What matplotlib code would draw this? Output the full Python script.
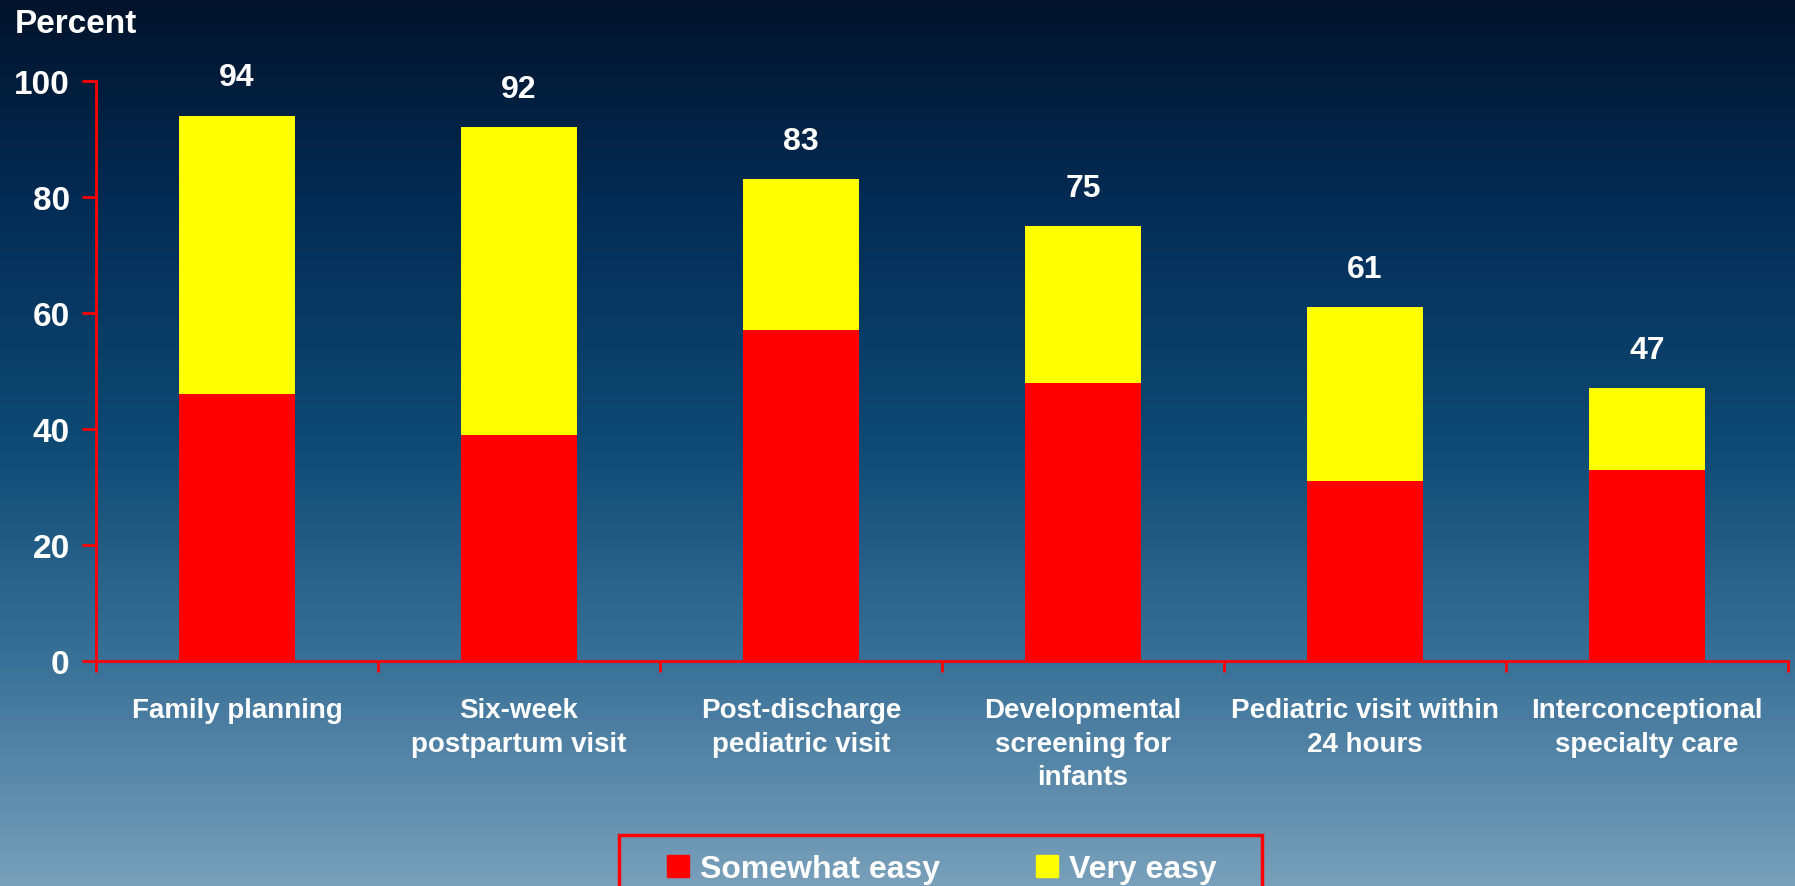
"""Stacked bar chart: ease of obtaining postpartum and infant services."""

import matplotlib

matplotlib.use("Agg")

import matplotlib.pyplot as plt
import numpy as np
from matplotlib.colors import LinearSegmentedColormap
from matplotlib.patches import Patch, Rectangle

plt.rcParams["font.family"] = ["Liberation Sans", "DejaVu Sans"]
plt.rcParams["font.weight"] = "bold"

categories = [
    "Family planning",
    "Six-week\npostpartum visit",
    "Post-discharge\npediatric visit",
    "Developmental\nscreening for\ninfants",
    "Pediatric visit within\n24 hours",
    "Interconceptional\nspecialty care",
]
somewhat_easy = [46, 39, 57, 48, 31, 33]
totals = [94, 92, 83, 75, 61, 47]
very_easy = [t - s for t, s in zip(totals, somewhat_easy)]
y_ticks = [0, 20, 40, 60, 80, 100]

_RED = "#ff0000"
_YELLOW = "#ffff00"
_TEXT = "white"
_W, _H = 1795, 887  # output size in pixels

fig = plt.figure(figsize=(_W / 100, _H / 100), dpi=100)

# Vertical background gradient, dark navy at the top to pale steel blue
bg = fig.add_axes([0, 0, 1, 1], zorder=-10)
bg_cmap = LinearSegmentedColormap.from_list(
    "bg",
    [
        (0.0, "#78a0bb"),
        (0.25, "#3a7198"),
        (0.5, "#0e4a74"),
        (0.75, "#042e58"),
        (1.0, "#02132b"),
    ],
)
bg.imshow(
    np.linspace(0, 1, 256).reshape(-1, 1),
    aspect="auto",
    cmap=bg_cmap,
    origin="lower",
    extent=[0, 1, 0, 1],
)
bg.set_xlim(0, 1)
bg.set_ylim(0, 1)
bg.axis("off")

ax = fig.add_axes([0.0535, 0.2537, 0.9425, 0.654])
ax.patch.set_alpha(0)

x = np.arange(len(categories))
bar_w = 0.41
ax.bar(x, somewhat_easy, width=bar_w, color=_RED, zorder=2)
ax.bar(x, very_easy, width=bar_w, bottom=somewhat_easy, color=_YELLOW, zorder=2)

for xi, t in zip(x, totals):
    ax.text(xi, t + 6.6, f"{t}", ha="center", va="center", color=_TEXT,
            fontsize=23, fontweight="bold")

ax.set_xlim(-0.5, len(categories) - 0.5)
ax.set_ylim(0, 100)
ax.set_yticks(y_ticks)
ax.set_yticklabels([str(v) for v in y_ticks])

# Ticks on the x axis sit at the category boundaries; labels go between them
ax.set_xticks(np.arange(len(categories) + 1) - 0.5)
ax.set_xticklabels([])
ax.set_xticks(x, minor=True)
ax.set_xticklabels(categories, minor=True)
ax.tick_params(axis="x", which="minor", length=0, pad=26,
               labelsize=20, labelcolor=_TEXT)
ax.tick_params(axis="x", which="major", direction="out", length=8,
               width=2, color=_RED)
ax.tick_params(axis="y", direction="out", length=10, width=2, color=_RED,
               labelsize=24, labelcolor=_TEXT, pad=9)

for lbl in ax.get_xticklabels(minor=True):
    lbl.set_fontweight("bold")
    lbl.set_linespacing(1.38)
    lbl.set_va("top")
for lbl in ax.get_yticklabels():
    lbl.set_fontweight("bold")

for side in ("top", "right"):
    ax.spines[side].set_visible(False)
for side in ("left", "bottom"):
    ax.spines[side].set_color(_RED)
    ax.spines[side].set_linewidth(2)

fig.text(0.008, 0.972, "Percent", ha="left", va="center", color=_TEXT,
         fontsize=24, fontweight="bold")

# Legend entries without a frame; the red box around them is drawn separately
handles = [Patch(color=_RED, label="Somewhat easy"),
           Patch(color=_YELLOW, label="Very easy")]
leg = fig.legend(
    handles=handles,
    loc="center left",
    bbox_to_anchor=(667 / _W, 1 - 870 / _H),
    ncol=2,
    frameon=False,
    fontsize=23,
    handlelength=0.69,
    handleheight=0.69,
    handletextpad=0.34,
    columnspacing=3.0,
    borderpad=0,
    borderaxespad=0,
)
for t in leg.get_texts():
    t.set_color(_TEXT)
    t.set_fontweight("bold")

fig.add_artist(Rectangle(
    (619 / _W, -0.05), (1262 - 619) / _W, 0.05 + 1 - 836 / _H,
    transform=fig.transFigure, facecolor="none", edgecolor=_RED,
    linewidth=2.5,
))

fig.savefig("out.png", dpi=100)
